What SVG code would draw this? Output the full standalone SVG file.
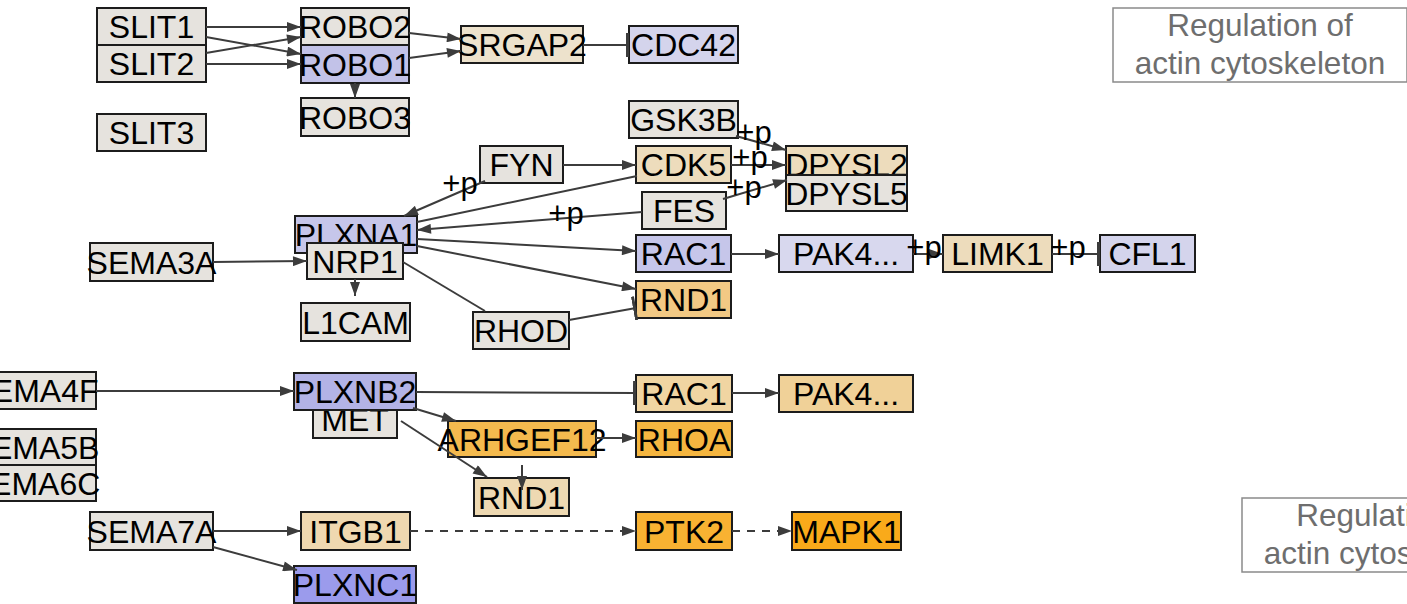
<svg xmlns="http://www.w3.org/2000/svg" width="1407" height="604" viewBox="0 0 1407 604">
<style>
.n rect{stroke:#1c1c1c;stroke-width:2}
.n text{font-family:"Liberation Sans",Arial,sans-serif;font-size:32px;fill:#000;text-anchor:middle}
.e path{fill:none;stroke:#3c3c3c;stroke-width:2}
.e .d{stroke-dasharray:8,7}
.e text{font-family:"Liberation Sans",Arial,sans-serif;font-size:31px;fill:#000;text-anchor:middle}
.lab rect{fill:none;stroke:#8a8a8a;stroke-width:1.5}
.lab text{font-family:"Liberation Sans",Arial,sans-serif;font-size:31.5px;fill:#6e6e6e;text-anchor:middle}
.g{fill:#e6e3de}.bl{fill:#c6c6ea}.bl2{fill:#d4d4ec}.be{fill:#ede2cc}.be2{fill:#eddcbc}.or{fill:#f2c984}
</style>
<defs>
<marker id="a" viewBox="0 0 14 10" refX="14" refY="5" markerWidth="15" markerHeight="10" orient="auto" markerUnits="userSpaceOnUse"><path d="M0,0 L14,5 L0,10 z" fill="#3c3c3c"/></marker>
<marker id="t" viewBox="0 0 4 24" refX="3" refY="12" markerWidth="4" markerHeight="24" orient="auto" markerUnits="userSpaceOnUse"><rect x="0" y="0" width="3" height="24" fill="#3c3c3c"/></marker>
</defs>

<g id="label-top" class="lab"><rect x="1113" y="8" width="294" height="74"/><text x="1260" y="36">Regulation of</text><text x="1260" y="74">actin cytoskeleton</text></g>
<g id="label-bottom" class="lab"><rect x="1242" y="498" width="294" height="74"/><text x="1389" y="526">Regulation of</text><text x="1389" y="564">actin cytoskeleton</text></g>

<g id="SLIT1" class="n"><rect class="g" x="97" y="8" width="109" height="37"/><text x="151.5" y="38">SLIT1</text></g>
<g id="SLIT2" class="n"><rect class="g" x="97" y="45" width="109" height="37"/><text x="151.5" y="75">SLIT2</text></g>
<g id="SLIT3" class="n"><rect class="g" x="97" y="114" width="109" height="37"/><text x="151.5" y="144">SLIT3</text></g>
<g id="ROBO2" class="n"><rect class="g" x="301" y="8" width="108" height="37"/><text x="355" y="38">ROBO2</text></g>
<g id="ROBO1" class="n"><rect fill="#c2c2e8" x="301" y="45" width="108" height="38"/><text x="355" y="76">ROBO1</text></g>
<g id="ROBO3" class="n"><rect class="g" x="301" y="98" width="108" height="38"/><text x="355" y="129">ROBO3</text></g>
<g id="SRGAP2" class="n"><rect class="be" x="461" y="26" width="122" height="37"/><text x="522" y="56">SRGAP2</text></g>
<g id="CDC42" class="n"><rect class="bl2" x="629" y="26" width="109" height="37"/><text x="683.5" y="56">CDC42</text></g>
<g id="GSK3B" class="n"><rect class="g" x="629" y="101" width="109" height="37"/><text x="683.5" y="131">GSK3B</text></g>
<g id="FYN" class="n"><rect class="g" x="480" y="146" width="83" height="37"/><text x="521.5" y="176">FYN</text></g>
<g id="CDK5" class="n"><rect class="be2" x="636" y="146" width="95" height="37"/><text x="683.5" y="176">CDK5</text></g>
<g id="DPYSL2" class="n"><rect class="be2" x="786" y="146" width="121" height="37"/><text x="846.5" y="176">DPYSL2</text></g>
<g id="DPYSL5" class="n"><rect class="g" x="786" y="175" width="121" height="36"/><text x="846.5" y="205">DPYSL5</text></g>
<g id="FES" class="n"><rect class="g" x="642" y="192" width="84" height="37"/><text x="684" y="222">FES</text></g>
<g id="PLXNA1" class="n"><rect class="bl" x="295" y="216" width="122" height="37"/><text x="356" y="246">PLXNA1</text></g>
<g id="SEMA3A" class="n"><rect class="g" x="90" y="243" width="123" height="38"/><text x="151.5" y="274">SEMA3A</text></g>
<g id="NRP1" class="n"><rect class="g" x="307" y="243" width="96" height="36"/><text x="355" y="273">NRP1</text></g>
<g id="RAC1-a" class="n"><rect class="bl" x="636" y="235" width="95" height="37"/><text x="683.5" y="265">RAC1</text></g>
<g id="PAK4-a" class="n"><rect fill="#d8d8ee" x="779" y="235" width="134" height="37"/><text x="846" y="265">PAK4...</text></g>
<g id="LIMK1" class="n"><rect class="be2" x="943" y="235" width="109" height="37"/><text x="997.5" y="265">LIMK1</text></g>
<g id="CFL1" class="n"><rect class="bl2" x="1100" y="235" width="95" height="37"/><text x="1147.5" y="265">CFL1</text></g>
<g id="RND1-a" class="n"><rect class="or" x="636" y="281" width="95" height="37"/><text x="683.5" y="311">RND1</text></g>
<g id="L1CAM" class="n"><rect class="g" x="301" y="303" width="109" height="38"/><text x="355.5" y="334">L1CAM</text></g>
<g id="RHOD" class="n"><rect class="g" x="473" y="312" width="96" height="37"/><text x="521" y="342">RHOD</text></g>
<g id="SEMA4F" class="n"><rect class="g" x="-27" y="372" width="123" height="37"/><text x="34.5" y="402">SEMA4F</text></g>
<g id="MET" class="n"><rect class="g" x="313" y="401" width="84" height="37"/><text x="355" y="431">MET</text></g>
<g id="PLXNB2" class="n"><rect fill="#b3b3e6" x="294" y="373" width="122" height="37"/><text x="355" y="403">PLXNB2</text></g>
<g id="RAC1-b" class="n"><rect fill="#f0d5a2" x="636" y="375" width="96" height="37"/><text x="684" y="405">RAC1</text></g>
<g id="PAK4-b" class="n"><rect fill="#f0d198" x="779" y="375" width="134" height="37"/><text x="846" y="405">PAK4...</text></g>
<g id="SEMA5B" class="n"><rect class="g" x="-27" y="429" width="123" height="36"/><text x="34.5" y="459">SEMA5B</text></g>
<g id="SEMA6C" class="n"><rect class="g" x="-27" y="465" width="123" height="36"/><text x="34.5" y="495">SEMA6C</text></g>
<g id="ARHGEF12" class="n"><rect fill="#f4ba4e" x="448" y="421" width="148" height="36"/><text x="522" y="451">ARHGEF12</text></g>
<g id="RHOA" class="n"><rect fill="#f5b640" x="636" y="421" width="96" height="36"/><text x="684" y="451">RHOA</text></g>
<g id="RND1-b" class="n"><rect fill="#eed9b2" x="474" y="478" width="95" height="38"/><text x="521.5" y="509">RND1</text></g>
<g id="SEMA7A" class="n"><rect class="g" x="90" y="512" width="123" height="38"/><text x="151.5" y="543">SEMA7A</text></g>
<g id="ITGB1" class="n"><rect fill="#efd8b0" x="301" y="512" width="109" height="38"/><text x="355.5" y="543">ITGB1</text></g>
<g id="PTK2" class="n"><rect fill="#f8b232" x="636" y="512" width="96" height="38"/><text x="684" y="543">PTK2</text></g>
<g id="MAPK1" class="n"><rect fill="#f9aa1a" x="792" y="512" width="109" height="38"/><text x="846.5" y="543">MAPK1</text></g>
<g id="PLXNC1" class="n"><rect fill="#9b9bec" x="294" y="566" width="122" height="37"/><text x="355" y="596">PLXNC1</text></g>

<g id="connectors" class="e">
<path d="M206,27 L301,27" marker-end="url(#a)"/>
<path d="M206,37 L301,54" marker-end="url(#a)"/>
<path d="M206,53 L301,37" marker-end="url(#a)"/>
<path d="M206,64 L301,64" marker-end="url(#a)"/>
<path d="M409,33 L461,39" marker-end="url(#a)"/>
<path d="M409,58 L461,51" marker-end="url(#a)"/>
<path d="M355,83 L355,98" marker-end="url(#a)"/>
<path d="M583,45 L629,45" marker-end="url(#t)"/>
<path d="M736,136 L786,150" marker-end="url(#a)"/>
<path d="M731,165 L786,165" marker-end="url(#a)"/>
<path d="M723,199 L787,180" marker-end="url(#a)"/>
<path d="M563,165 L636,165" marker-end="url(#a)"/>
<path d="M485,181 L404,216" marker-end="url(#a)"/>
<path d="M637,176 L417,222"/>
<path d="M642,212 L417,230" marker-end="url(#a)"/>
<path d="M417,239 L636,251" marker-end="url(#a)"/>
<path d="M417,246 L636,289" marker-end="url(#a)"/>
<path d="M403,262 L485,311"/>
<path d="M569,320 L636,308" marker-end="url(#t)"/>
<path d="M213,262 L307,261" marker-end="url(#a)"/>
<path d="M355,279 L355,296" marker-end="url(#a)"/>
<path d="M731,254 L779,254" marker-end="url(#a)"/>
<path d="M913,254 L943,254" marker-end="url(#a)"/>
<path d="M1052,254 L1100,254" marker-end="url(#t)"/>
<path d="M96,391 L294,391" marker-end="url(#a)"/>
<path d="M416,392 L636,393" marker-end="url(#t)"/>
<path d="M413,408 L456,421" marker-end="url(#a)"/>
<path d="M401,421 L487,477" marker-end="url(#a)"/>
<path d="M596,438 L636,438" marker-end="url(#a)"/>
<path d="M522,465 L522,490" marker-end="url(#a)"/>
<path d="M732,393 L779,393" marker-end="url(#a)"/>
<path d="M213,531 L301,531" marker-end="url(#a)"/>
<path d="M213,547 L297,570" marker-end="url(#a)"/>
<path class="d" d="M410,531 L636,531" marker-end="url(#a)"/>
<path class="d" d="M732,531 L792,531" marker-end="url(#a)"/>
<text x="754" y="143">+p</text>
<text x="750" y="168">+p</text>
<text x="744" y="198">+p</text>
<text x="460" y="194">+p</text>
<text x="566" y="224">+p</text>
<text x="924" y="258">+p</text>
<text x="1068" y="258">+p</text>
</g>
</svg>
